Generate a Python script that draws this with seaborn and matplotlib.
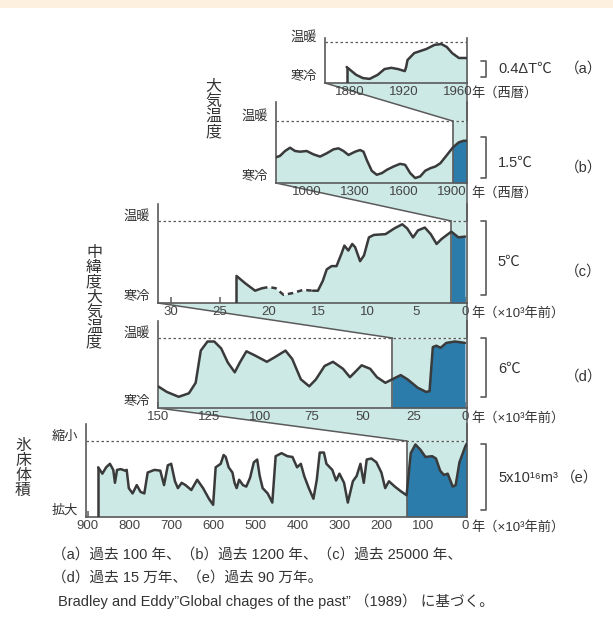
import matplotlib
matplotlib.use("Agg")
import numpy as np
import pandas as pd
import matplotlib.pyplot as plt
from matplotlib.patches import Polygon, Rectangle
from matplotlib.lines import Line2D
import seaborn as sns

# ---------------------------------------------------------------
# Data. Vertical level of every record is relative:
# 0 = lower reference (寒冷 / 拡大), 1 = dotted upper reference (温暖 / 縮小)
# ---------------------------------------------------------------

# (a) 過去100年, 西暦
a_x = [1878, 1885, 1890, 1895, 1901, 1906, 1911, 1916, 1921, 1922, 1923,
       1928, 1937, 1943, 1948, 1952, 1956, 1961, 1967]
a_y = [0.39, 0.20, 0.12, 0.10, 0.20, 0.34, 0.37, 0.34, 0.29, 0.39, 0.56,
       0.73, 0.83, 0.93, 0.95, 0.88, 0.73, 0.61, 0.61]
a_ticks = [1880, 1920, 1960]

# (b) 過去1200年, 西暦
b_x = [810, 834, 866, 897, 928, 959, 1000, 1041, 1083, 1124, 1166, 1197,
       1228, 1259, 1300, 1331, 1352, 1372, 1403, 1434, 1466, 1497, 1538,
       1579, 1610, 1641, 1672, 1703, 1734, 1766, 1797, 1828, 1869, 1904,
       1941, 1972, 1993]
b_y = [0.415, 0.436, 0.516, 0.569, 0.516, 0.505, 0.516, 0.463, 0.426, 0.479,
       0.543, 0.559, 0.516, 0.452, 0.505, 0.532, 0.505, 0.372, 0.197, 0.133,
       0.160, 0.213, 0.266, 0.309, 0.293, 0.160, 0.080, 0.106, 0.197, 0.239,
       0.266, 0.319, 0.452, 0.569, 0.654, 0.681, 0.681]
b_ticks = [1000, 1300, 1600, 1900]

# (c) 過去25000年, ×10³年前
c_x = [23.3, 22.4, 21.4, 20.7, 20.0, 19.3, 18.5, 17.6, 16.5, 15.5, 15.0,
       14.5, 14.1, 13.6, 13.1, 12.6, 12.3, 11.9, 11.5, 11.2, 10.7, 10.3,
       9.8, 9.3, 8.1, 7.2, 6.4, 5.9, 5.3, 4.8, 4.1, 3.5, 2.9, 2.4, 1.4,
       0.67, 0.0]
c_y = [0.33, 0.24, 0.15, 0.18, 0.195, 0.18, 0.10, 0.12, 0.16, 0.15, 0.15,
       0.27, 0.41, 0.45, 0.45, 0.60, 0.70, 0.64, 0.72, 0.68, 0.51, 0.58,
       0.80, 0.83, 0.84, 0.91, 0.96, 0.91, 0.80, 0.885, 0.92, 0.84, 0.72,
       0.78, 0.87, 0.80, 0.81]
c_ticks = [30, 25, 20, 15, 10, 5, 0]
c_uncertain = (20.7, 15.5)   # stretch of the record drawn dashed

# (d) 過去15万年, ×10³年前
d_x = [150, 145.7, 139.9, 134.9, 131.6, 129.1, 125.8, 122.5, 119.1, 115.9,
       112.5, 110.0, 106.8, 102.6, 96.8, 92.7, 87.7, 84.4, 80.2, 76.1, 72.8,
       68.6, 64.5, 59.6, 56.2, 53.8, 50.5, 46.3, 43.0, 38.9, 35.5, 31.4,
       28.1, 23.1, 19.0, 17.3, 15.7, 14.0, 11.9, 9.1, 4.9, 0]
d_y = [0.31, 0.23, 0.16, 0.21, 0.36, 0.82, 0.95, 0.95, 0.85, 0.65, 0.51,
       0.65, 0.81, 0.75, 0.66, 0.73, 0.82, 0.70, 0.41, 0.31, 0.41, 0.60,
       0.66, 0.56, 0.44, 0.51, 0.61, 0.56, 0.44, 0.36, 0.41, 0.47, 0.41,
       0.29, 0.23, 0.24, 0.87, 0.89, 0.86, 0.93, 0.95, 0.93]
d_ticks = [150, 125, 100, 75, 50, 25, 0]

# (e) 過去90万年, 氷床体積, ×10³年前
e_x = [875, 865, 856, 847, 839, 835, 830, 821, 811, 807, 802, 793, 783, 774,
       765, 757, 741, 727, 718, 709, 701, 692, 685, 676, 667, 653, 639, 625,
       611, 601, 595, 583, 576, 571, 564, 555, 550, 545, 539, 530, 522, 513,
       504, 496, 490, 483, 471, 460, 452, 438, 424, 412, 401, 392, 384, 373,
       362, 354, 347, 337, 331, 317, 308, 300, 289, 280, 268, 259, 250, 242,
       235, 224, 212, 200, 191, 182, 168, 154, 140, 130, 119, 107, 95, 79,
       70, 60, 51, 42, 30, 23, 14, 0, -4]
e_y = [0.654, 0.57, 0.654, 0.70, 0.62, 0.45, 0.62, 0.63, 0.61, 0.62, 0.38,
       0.31, 0.42, 0.33, 0.31, 0.585, 0.62, 0.61, 0.42, 0.68, 0.70, 0.47,
       0.38, 0.45, 0.42, 0.355, 0.49, 0.38, 0.24, 0.16, 0.654, 0.70, 0.816,
       0.79, 0.654, 0.585, 0.45, 0.38, 0.49, 0.42, 0.40, 0.516, 0.72, 0.756,
       0.54, 0.38, 0.31, 0.19, 0.80, 0.84, 0.80, 0.79, 0.654, 0.70, 0.54,
       0.38, 0.24, 0.49, 0.848, 0.848, 0.70, 0.62, 0.48, 0.57, 0.45, 0.19,
       0.47, 0.54, 0.70, 0.45, 0.756, 0.77, 0.72, 0.585, 0.38, 0.47, 0.40,
       0.34, 0.286, 0.84, 0.954, 0.885, 0.79, 0.80, 0.77, 0.61, 0.553, 0.57,
       0.40, 0.42, 0.72, 0.93, 0.97]
e_ticks = [900, 800, 700, 600, 500, 400, 300, 200, 100, 0]

# start of the span that the panel above enlarges
zoom_start = {"b": 1904, "c": 1.4, "d": 35.5, "e": 140}

# ---------------------------------------------------------------
# Style
# ---------------------------------------------------------------
sns.set_theme(style="white")
plt.rcParams["font.family"] = ["Liberation Sans", "Noto Sans CJK JP", "DejaVu Sans"]

LINE = "#3a3a3a"
AXC = "#5a5a5a"
TEAL = "#cce9e5"
BLUE = "#2b7bab"
TXT = "#333333"

W, H = 613, 625
fig = plt.figure(figsize=(W / 100, H / 100), dpi=100)
fig.patch.set_facecolor("white")

# pale band along the top edge
fig.add_artist(Rectangle((0, 1 - 8 / H), 1, 8 / H, transform=fig.transFigure,
                         facecolor="#fef0de", edgecolor="none", zorder=-3))

# panel frames in pixels: left, frame top, right, dotted level, baseline
layout = {
    "a": (325, 38, 467, 42, 83),
    "b": (276, 102, 467, 121, 183),
    "c": (158, 204, 467, 221, 303),
    "d": (158, 321, 467, 338, 408),
    "e": (86, 424, 467, 441, 517),
}
xlims = {"a": (1862, 1967), "b": (810, 1993), "c": (31.3, -0.2),
         "d": (150, -1), "e": (904, -4)}


def draw_panel(key, x, y, ticks, top_lbl, bot_lbl, unit, hl=None, uncertain=None):
    l, t, r, dsh, b = layout[key]
    ax = fig.add_axes([l / W, 1 - b / H, (r - l) / W, (b - t) / H])
    ax.set_facecolor("none")
    x = np.asarray(x, float)
    y = np.asarray(y, float)
    x0, x1 = xlims[key]

    if hl is None:
        main = np.ones(len(x), bool)
    else:
        side = (x - hl) * (x1 - hl)
        main = side <= 1e-9
        zoom = side >= -1e-9
    ax.fill_between(x[main], 0, y[main], color=TEAL, lw=0, zorder=1)
    if hl is not None:
        ax.fill_between(x[zoom], y[zoom], 1, color=TEAL, lw=0, zorder=1)
        ax.fill_between(x[zoom], 0, y[zoom], color=BLUE, lw=0, zorder=1)
        ax.plot([hl, hl], [0, 1], color=AXC, lw=1.2, zorder=2)

    ax.axhline(1, color=AXC, lw=0.9, ls=(0, (2, 2)), zorder=2)

    # record beginning inside the frame starts with an upright stroke
    if abs(x[0] - x0) > 1e-6:
        ax.plot([x[0], x[0]], [0, y[0]], color=LINE, lw=1.8, zorder=3,
                solid_capstyle="butt")

    df = pd.DataFrame({"x": x, "y": y})
    if uncertain is None:
        parts = [(df, "-")]
    else:
        u0, u1 = uncertain
        parts = [(df[df.x >= u0], "-"),
                 (df[(df.x <= u0) & (df.x >= u1)], (0, (2.2, 1.6))),
                 (df[df.x <= u1], "-")]
    for part, ls in parts:
        sns.lineplot(data=part, x="x", y="y", ax=ax, estimator=None, sort=False,
                     color=LINE, lw=1.8, linestyle=ls, zorder=3,
                     solid_joinstyle="round", solid_capstyle="round")

    ax.set_xlim(x0, x1)
    ax.set_ylim(0, (b - t) / (b - dsh))
    ax.set_xlabel("")
    ax.set_ylabel("")
    ax.set_xticks(ticks)
    ax.set_xticklabels([str(v) for v in ticks])
    ax.set_yticks([])
    ax.tick_params(axis="x", direction="in", length=4, width=1.1, color=AXC,
                   pad=2.5, labelsize=9.5, labelcolor="#444444", bottom=True)
    ax.spines["top"].set_visible(False)
    for s in ("left", "right", "bottom"):
        ax.spines[s].set_color(AXC)
        ax.spines[s].set_linewidth(1.2)

    yt = ax.get_yaxis_transform()
    ax.annotate(top_lbl, xy=(0, 1), xycoords=yt, xytext=(-5.5, 3.2),
                textcoords="offset points", ha="right", va="center",
                fontsize=9.5, color=TXT)
    ax.annotate(bot_lbl, xy=(0, 0), xycoords=yt, xytext=(-5.5, 4.5),
                textcoords="offset points", ha="right", va="center",
                fontsize=9.5, color=TXT)
    ax.annotate(unit, xy=(1, 0), xycoords="axes fraction", xytext=(3.5, -2.5),
                textcoords="offset points", ha="left", va="top",
                fontsize=9.5, color=TXT)
    return ax


def connect(upper, lower, hl):
    inv = fig.transFigure.inverted()
    ul = inv.transform(upper.transAxes.transform((0, 0)))
    ur = inv.transform(upper.transAxes.transform((1, 0)))
    lr = inv.transform(lower.get_yaxis_transform().transform((1, 1)))
    ll = inv.transform(lower.transData.transform((hl, 1)))
    fig.add_artist(Polygon([ul, ur, lr, ll], closed=True, transform=fig.transFigure,
                           facecolor=TEAL, edgecolor="none", zorder=-2))
    for p, q in ((ul, ll), (ur, lr)):
        fig.add_artist(Line2D([p[0], q[0]], [p[1], q[1]], transform=fig.transFigure,
                              color=AXC, lw=1.1, zorder=-1))


WEST = "年（西暦）"
AGO = "年（×10³年前）"
ax_a = draw_panel("a", a_x, a_y, a_ticks, "温暖", "寒冷", WEST)
ax_b = draw_panel("b", b_x, b_y, b_ticks, "温暖", "寒冷", WEST, hl=zoom_start["b"])
ax_c = draw_panel("c", c_x, c_y, c_ticks, "温暖", "寒冷", AGO, hl=zoom_start["c"],
                  uncertain=c_uncertain)
ax_d = draw_panel("d", d_x, d_y, d_ticks, "温暖", "寒冷", AGO, hl=zoom_start["d"])
ax_e = draw_panel("e", e_x, e_y, e_ticks, "縮小", "拡大", AGO, hl=zoom_start["e"])

connect(ax_a, ax_b, zoom_start["b"])
connect(ax_b, ax_c, zoom_start["c"])
connect(ax_c, ax_d, zoom_start["d"])
connect(ax_d, ax_e, zoom_start["e"])


def ftext(x, y, s, **kw):
    kw.setdefault("color", TXT)
    fig.text(x / W, 1 - y / H, s, **kw)


def bracket(x, y0, y1):
    xs = [(x - 5) / W, x / W, x / W, (x - 5) / W]
    ys = [1 - y0 / H, 1 - y0 / H, 1 - y1 / H, 1 - y1 / H]
    fig.add_artist(Line2D(xs, ys, transform=fig.transFigure, color=AXC, lw=1.2))


# scale brackets with their magnitudes and panel letters
bracket(486, 61, 77)
ftext(498, 69, "0.4ΔT℃", fontsize=10.5, va="center")
ftext(565, 69, "（a）", fontsize=10.5, va="center")

bracket(486, 137, 178)
ftext(498, 163, "1.5℃", fontsize=10.5, va="center")
ftext(565, 168, "（b）", fontsize=10.5, va="center")

bracket(486, 221, 295)
ftext(497, 262, "5℃", fontsize=10.5, va="center")
ftext(565, 272, "（c）", fontsize=10.5, va="center")

bracket(486, 338, 397)
ftext(498, 369, "6℃", fontsize=10.5, va="center")
ftext(565, 377, "（d）", fontsize=10.5, va="center")

bracket(486, 444, 510)
ftext(498, 478, "5x10¹⁶m³", fontsize=10.5, va="center")
ftext(561, 478, "（e）", fontsize=10.5, va="center")

# vertical group titles
ftext(213, 109, "大\n気\n温\n度", fontsize=11.5, ha="center", va="center",
      linespacing=1.0)
ftext(94, 297, "中\n緯\n度\n大\n気\n温\n度", fontsize=11.5, ha="center",
      va="center", linespacing=1.0)
ftext(23, 468, "氷\n床\n体\n積", fontsize=11.5, ha="center", va="center",
      linespacing=1.0)

# caption
ftext(52, 555, "（a）過去 100 年、（b）過去 1200 年、（c）過去 25000 年、",
      fontsize=10.5, va="center")
ftext(52, 578, "（d）過去 15 万年、（e）過去 90 万年。", fontsize=10.5, va="center")
ftext(58, 601, "Bradley and Eddy”Global chages of the past” （1989） に基づく。",
      fontsize=10.5, va="center")

fig.savefig("out.png", dpi=100, facecolor="white")
